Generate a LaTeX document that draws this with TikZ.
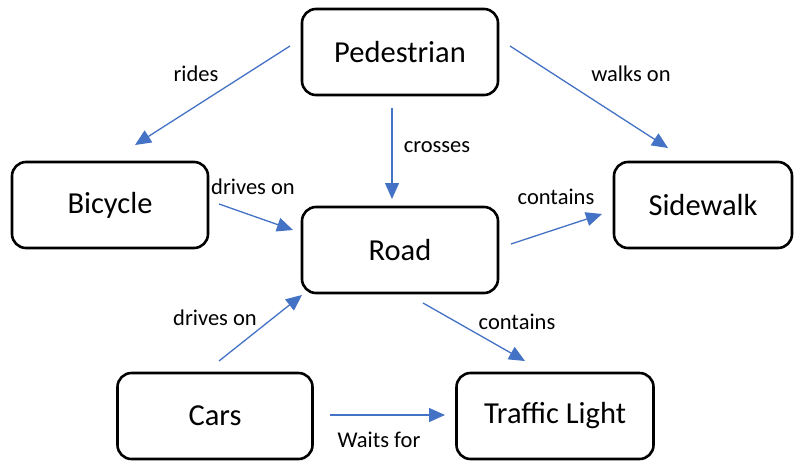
\documentclass[tikz,border=0pt]{standalone}
\usepackage{fontspec}
\setmainfont{Carlito}
\usetikzlibrary{arrows.meta}
\definecolor{linkblue}{HTML}{4472C4}
\begin{document}
\begin{tikzpicture}[x=1pt,y=-1pt,
  concept/.style={draw=black,line width=2.6pt,rounded corners=14pt,
    minimum width=#1,minimum height=86pt,inner sep=0pt,
    font=\fontsize{30.5}{36}\selectfont},
  link/.style={draw=linkblue,line width=1.3pt,
    -{Triangle[length=16pt,width=14pt]}},
  lbl/.style={font=\fontsize{22.5}{27}\selectfont,inner sep=0pt}]
\fill[white] (0,0) rectangle (800,461);
\path[use as bounding box] (0,0) rectangle (800,461);

% concepts
\node[concept=196pt] (ped)  at (400,52)  {Pedestrian};
\node[concept=196pt] (bic)  at (110,205) {Bicycle};
\node[concept=196pt] (road) at (400,250) {Road};
\node[concept=178pt] (side) at (703,205) {Sidewalk};
\node[concept=195pt] (cars) at (215,416) {Cars};
\node[concept=197pt] (tl)   at (555,416) {Traffic Light};

% connector end points
\coordinate (ridesA) at (290,46);   \coordinate (ridesB) at (135,145);
\coordinate (crossA) at (392,108);  \coordinate (crossB) at (392,199);
\coordinate (walkA)  at (510,46);   \coordinate (walkB)  at (668,148);
\coordinate (bdrvA)  at (219,204);  \coordinate (bdrvB)  at (293,230);
\coordinate (sconA)  at (511,244);  \coordinate (sconB)  at (602,214);
\coordinate (cdrvA)  at (219,361);  \coordinate (cdrvB)  at (302,295);
\coordinate (tconA)  at (423,303);  \coordinate (tconB)  at (525,361);
\coordinate (waitA)  at (330,415);  \coordinate (waitB)  at (445,415);

% links
\draw[link] (ridesA) -- (ridesB);
\draw[link] (crossA) -- (crossB);
\draw[link] (walkA) -- (walkB);
\draw[link] (bdrvA) -- (bdrvB);
\draw[link] (sconA) -- (sconB);
\draw[link] (cdrvA) -- (cdrvB);
\draw[link] (tconA) -- (tconB);
\draw[link] (waitA) -- (waitB);

% link labels
\node[lbl] (l1) at (196,74)  {rides};
\node[lbl] (l2) at (437,147) {crosses};
\node[lbl] (l3) at (631,74)  {walks on};
\node[lbl] (l4) at (253,187) {drives on};
\node[lbl] (l5) at (556,197) {contains};
\node[lbl] (l6) at (215,318) {drives on};
\node[lbl] (l7) at (517,322) {contains};
\node[lbl] (l8) at (379,440) {Waits for};
\end{tikzpicture}
\end{document}
